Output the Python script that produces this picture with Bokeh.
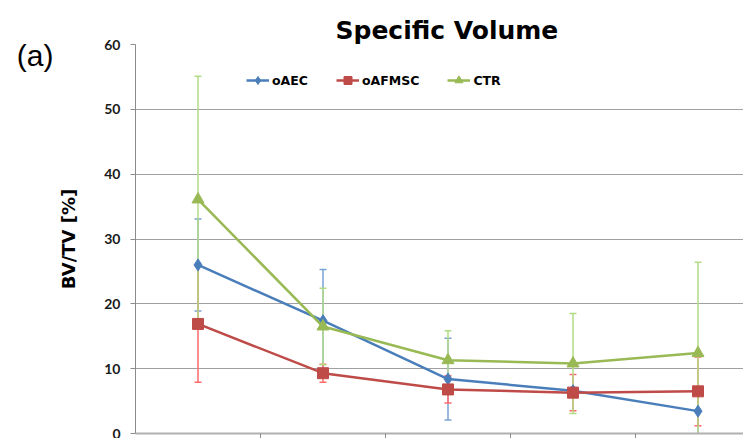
from bokeh.plotting import figure
from bokeh.models import Range1d, FixedTicker, Whisker, ColumnDataSource, TeeHead, Legend, LinearAxis
from bokeh.embed import file_html
from bokeh.resources import INLINE

# ---- data ----
groups = [0, 1, 2, 3, 4]            # category positions (labels cut off in the reference)
series = ["oAEC", "oAFMSC", "CTR"]
oAEC = [26.0, 17.4, 8.4, 6.6, 3.45]
oAEC_err = [7.1, 7.9, 6.3, 0.5, 3.5]
oAFMSC = [16.9, 9.3, 6.8, 6.3, 6.5]
oAFMSC_err = [9.0, 1.4, 2.1, 2.8, 5.3]
CTR = [36.1, 16.5, 11.3, 10.8, 12.4]
CTR_err = [19.0, 5.9, 4.55, 7.7, 14.0]
y_ticks = [0, 10, 20, 30, 40, 50, 60]
category_bounds = [0.5, 1.5, 2.5, 3.5]

values = {"oAEC": (oAEC, oAEC_err), "oAFMSC": (oAFMSC, oAFMSC_err), "CTR": (CTR, CTR_err)}
line_colors = {"oAEC": "#4a7ebb", "oAFMSC": "#be4b48", "CTR": "#98b954"}
err_colors = {"oAEC": "#7aa3d8", "oAFMSC": "#ff6a6a", "CTR": "#b2dc84"}
markers = {"oAEC": "diamond", "oAFMSC": "square", "CTR": "triangle"}
msize = {"oAEC": 12, "oAFMSC": 11, "CTR": 12}

p = figure(width=743, height=438, output_backend="svg", toolbar_location=None,
           x_range=Range1d(-0.5, 4.364), y_range=Range1d(0, 60),
           min_border_left=135, min_border_right=0, min_border_top=44, min_border_bottom=0)

p.title.text = "Specific Volume"
p.title.align = "left"
p.title.offset = 200
p.title.text_font = "DejaVu Sans"
p.title.text_font_style = "bold"
p.title.text_font_size = "25px"
p.title.text_color = "#000000"
p.title.standoff = 0
p.outline_line_color = None
p.background_fill_color = "white"
p.border_fill_color = "white"

# y axis
p.yaxis.ticker = FixedTicker(ticks=y_ticks)
p.yaxis.major_label_text_font = "Lato"
p.yaxis.major_label_text_font_style = "bold"
p.yaxis.major_label_text_font_size = "14px"
p.yaxis.major_label_text_color = "#1a1a1a"
p.yaxis.major_tick_out = 5
p.yaxis.major_tick_in = 0
p.yaxis.minor_tick_line_color = None
p.yaxis.major_tick_line_color = "#8c8c8c"
p.yaxis.axis_line_color = "#8c8c8c"
p.yaxis.major_label_standoff = 10
p.yaxis.axis_label = "BV/TV [%]"
p.yaxis.axis_label_text_font = "DejaVu Sans"
p.yaxis.axis_label_text_font_style = "bold"
p.yaxis.axis_label_text_font_size = "18px"
p.yaxis.axis_label_text_color = "#000000"
p.yaxis.axis_label_standoff = 22

# panel tag "(a)" as a horizontal label of an extra, tickless left axis
# (leading blank line pushes it below the frame's top edge)
tag_axis = LinearAxis(ticker=FixedTicker(ticks=[]), axis_label="\n(a)",
                      axis_label_orientation="horizontal", axis_label_align="end",
                      axis_label_text_line_height=0.65,
                      axis_label_text_font="Liberation Sans", axis_label_text_font_style="normal",
                      axis_label_text_font_size="30px", axis_label_text_color="#000000",
                      axis_label_standoff=2, axis_line_color=None,
                      major_tick_line_color=None, minor_tick_line_color=None,
                      major_tick_out=0, major_label_standoff=0)
p.add_layout(tag_axis, "left")

# x axis: boundary ticks only (as minor ticks, so no tick labels)
p.xaxis.ticker = FixedTicker(ticks=[], minor_ticks=category_bounds)
p.xaxis.major_label_standoff = 0
p.xaxis.major_tick_out = 3
p.xaxis.major_tick_in = 0
p.xaxis.minor_tick_out = 5
p.xaxis.minor_tick_in = 0
p.xaxis.minor_tick_line_color = "#8c8c8c"
p.xaxis.minor_tick_line_width = 1
p.xaxis.axis_line_color = "#b0b0b0"
p.xaxis.axis_line_width = 2

p.xgrid.visible = False
p.ygrid.ticker = FixedTicker(ticks=y_ticks)
p.ygrid.grid_line_color = "#a0a0a0"
p.ygrid.grid_line_width = 1

# error bars first
for s in series:
    v, e = values[s]
    src = ColumnDataSource(dict(x=groups,
                                lo=[a - b for a, b in zip(v, e)],
                                hi=[a + b for a, b in zip(v, e)]))
    w = Whisker(source=src, base="x", upper="hi", lower="lo", dimension="height",
                line_color=err_colors[s], line_width=1.5,
                upper_head=TeeHead(size=7, line_color=err_colors[s], line_width=1.5),
                lower_head=TeeHead(size=7, line_color=err_colors[s], line_width=1.5))
    p.add_layout(w)

legend_items = []
for s in series:
    v, e = values[s]
    src = ColumnDataSource(dict(x=groups, y=v))
    l = p.line("x", "y", source=src, line_color=line_colors[s], line_width=2.5)
    m = p.scatter("x", "y", source=src, marker=markers[s], size=msize[s],
                  fill_color=line_colors[s], line_color=line_colors[s])
    legend_items.append((s, [l, m]))

legend = Legend(items=legend_items, orientation="horizontal", location=(111, 343),
                label_text_font="DejaVu Sans", label_text_font_style="bold",
                label_text_font_size="12.5px", label_text_color="#000000",
                glyph_width=23, glyph_height=20, label_height=20, label_standoff=3,
                spacing=28, padding=0, margin=0,
                border_line_color=None, background_fill_alpha=0)
p.add_layout(legend, "center")

open("out.html", "w").write(file_html(p, INLINE))
